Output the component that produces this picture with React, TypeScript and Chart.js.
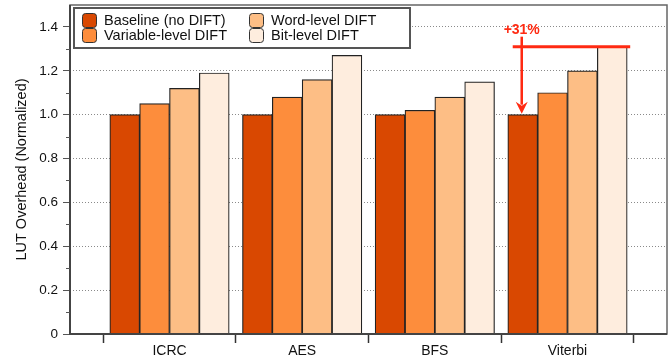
import React, { useEffect, useRef } from "react";
import { Chart, registerables } from "chart.js";

Chart.register(...registerables);

const categories = ["ICRC", "AES", "BFS", "Viterbi"];
const seriesLabels = [
  "Baseline (no DIFT)",
  "Variable-level DIFT",
  "Word-level DIFT",
  "Bit-level DIFT",
];
const baseline = [1.0, 1.0, 1.0, 1.0];
const variableLevel = [1.05, 1.08, 1.02, 1.1];
const wordLevel = [1.12, 1.16, 1.08, 1.2];
const bitLevel = [1.19, 1.27, 1.15, 1.31];
const seriesColors = ["#D94801", "#FD8D3C", "#FDBE85", "#FEEDDE"];
const yTicks = [0, 0.2, 0.4, 0.6, 0.8, 1.0, 1.2, 1.4];
const yMinorTicks = [0.1, 0.3, 0.5, 0.7, 0.9, 1.1, 1.3];
const xSeparators = [-0.5, 0.5, 1.5, 2.5, 3.5];
const annotationText = "+31%";
const annotationValue = 1.31;
const annotationBase = 1.0;
const annotationCategory = 3;

const FONT = "'Liberation Sans', Arial, Helvetica, sans-serif";

const framePlugin = {
  id: "frameAndExtras",
  afterDatasetsDraw(chart: any) {
    const { ctx, chartArea } = chart;
    const ys = chart.scales.y;
    ctx.save();
    // frame
    ctx.strokeStyle = "#666";
    ctx.lineWidth = 1.5;
    ctx.strokeRect(chartArea.left, chartArea.top, chartArea.right - chartArea.left, chartArea.bottom - chartArea.top);
    ctx.strokeStyle = "#444";
    ctx.lineWidth = 2;
    ctx.beginPath();
    ctx.moveTo(chartArea.left, chartArea.top);
    ctx.lineTo(chartArea.left, chartArea.bottom);
    ctx.lineTo(chartArea.right, chartArea.bottom);
    ctx.stroke();
    // minor y ticks
    ctx.strokeStyle = "#555";
    ctx.lineWidth = 1;
    yMinorTicks.forEach((v) => {
      const y = Math.round(ys.getPixelForValue(v)) + 0.5;
      ctx.beginPath();
      ctx.moveTo(chartArea.left - 4, y);
      ctx.lineTo(chartArea.left, y);
      ctx.stroke();
    });

    // annotation
    const metaBase = chart.getDatasetMeta(0).data[annotationCategory];
    const metaTop = chart.getDatasetMeta(3).data[annotationCategory];
    const yTop = ys.getPixelForValue(annotationValue);
    const yBase = ys.getPixelForValue(annotationBase);
    const ax = metaBase.x - 1;
    const red = "#FF2A12";
    ctx.strokeStyle = red;
    ctx.fillStyle = red;
    ctx.lineWidth = 3;
    ctx.beginPath();
    ctx.moveTo(metaBase.x - 10, yTop);
    ctx.lineTo(metaTop.x + metaTop.width / 2 + 3, yTop);
    ctx.stroke();
    ctx.lineWidth = 2.5;
    ctx.beginPath();
    ctx.moveTo(ax, yTop - 10);
    ctx.lineTo(ax, yBase - 10);
    ctx.stroke();
    ctx.beginPath();
    ctx.moveTo(ax - 6, yBase - 13);
    ctx.lineTo(ax, yBase - 9);
    ctx.lineTo(ax + 6, yBase - 13);
    ctx.lineTo(ax, yBase - 1);
    ctx.closePath();
    ctx.fill();
    ctx.font = `bold 14px ${FONT}`;
    ctx.textAlign = "center";
    ctx.textBaseline = "middle";
    ctx.fillText(annotationText, ax, yTop - 17);

    // legend
    const lx = chartArea.left + 4;
    const ly = chartArea.top + 3;
    const lw = 336;
    const lh = 40;
    ctx.fillStyle = "#fff";
    ctx.fillRect(lx, ly, lw, lh);
    ctx.strokeStyle = "#555";
    ctx.lineWidth = 2;
    ctx.strokeRect(lx, ly, lw, lh);
    const cols = [lx + 8, lx + 175];
    const rows = [ly + 12, ly + 27];
    chart.data.datasets.forEach((ds: any, i: number) => {
      const col = i < 2 ? 0 : 1;
      const row = i % 2;
      const sx = cols[col];
      const sy = rows[row];
      ctx.fillStyle = ds.backgroundColor;
      ctx.strokeStyle = "#333";
      ctx.lineWidth = 1;
      ctx.beginPath();
      (ctx as any).roundRect(sx + 0.5, sy - 6.5, 14, 14, 3);
      ctx.fill();
      ctx.stroke();
      ctx.fillStyle = "#111";
      ctx.font = `14.5px ${FONT}`;
      ctx.textAlign = "left";
      ctx.textBaseline = "middle";
      ctx.fillText(ds.label, sx + 22, sy + 1);
    });
    ctx.restore();
  },
};

export default function App() {
  const ref = useRef<HTMLCanvasElement>(null);
  useEffect(() => {
    document.body.style.margin = "0";
    const series = [baseline, variableLevel, wordLevel, bitLevel];
    const chart = new Chart(ref.current as HTMLCanvasElement, {
      type: "bar",
      data: {
        datasets: series.map((vals, si) => ({
          label: seriesLabels[si],
          data: vals.map((v, i) => ({ x: i, y: v })),
          backgroundColor: seriesColors[si],
          borderColor: "#222",
          borderWidth: 1.2,
          barThickness: 29.85,
        })),
      },
      options: {
        responsive: false,
        animation: false,
        layout: { padding: { top: 5, right: 3, left: 0, bottom: 0 } },
        plugins: { legend: { display: false }, tooltip: { enabled: false } },
        scales: {
          x: {
            type: "linear",
            min: -0.75,
            max: 3.75,
            offset: false,
            afterBuildTicks: (scale: any) => {
              const t: any[] = [];
              xSeparators.forEach((s) => t.push({ value: s }));
              categories.forEach((_, i) => t.push({ value: i }));
              t.sort((a, b) => a.value - b.value);
              scale.ticks = t;
            },
            afterFit: (scale: any) => {
              scale.height = 26;
              scale.paddingLeft = 0;
              scale.paddingRight = 0;
            },
            border: { display: false },
            grid: {
              offset: false,
              drawOnChartArea: false,
              drawTicks: true,
              tickLength: 9,
              tickWidth: 1.5,
              tickColor: (ctx: any) =>
                ctx.tick && Number.isInteger(ctx.tick.value) ? "rgba(0,0,0,0)" : "#333",
            },
            ticks: {
              autoSkip: false,
              maxRotation: 0,
              padding: 0,
              color: "#111",
              font: { family: FONT, size: 14 },
              callback: (v: any) => (Number.isInteger(v) ? categories[v] : ""),
            },
          },
          y: {
            type: "linear",
            min: 0,
            max: 1.5,
            afterBuildTicks: (scale: any) => {
              scale.ticks = yTicks.map((v) => ({ value: v }));
            },
            afterFit: (scale: any) => {
              scale.width = 70;
              scale.paddingTop = 0;
              scale.paddingBottom = 0;
            },
            border: { display: false, dash: [1, 2] },
            grid: {
              color: (ctx: any) => (ctx.tick && ctx.tick.value === 0 ? "rgba(0,0,0,0)" : "#8a8a8a"),
              lineWidth: 1,
              drawTicks: true,
              tickLength: 7,
              tickColor: "#555",
              tickBorderDash: [],
            },
            ticks: {
              padding: 5,
              color: "#111",
              font: { family: FONT, size: 13.5 },
              callback: (v: any) => (v === 0 ? "0" : Number(v).toFixed(1)),
            },
            title: {
              display: true,
              text: "LUT Overhead (Normalized)",
              color: "#111",
              font: { family: FONT, size: 14.5 },
              padding: { top: 13, bottom: 0 },
            },
          },
        },
      },
      plugins: [framePlugin],
    });
    return () => chart.destroy();
  }, []);
  return (
    <div style={{ width: 670, height: 360 }}>
      <canvas ref={ref} width={670} height={360} />
    </div>
  );
}
